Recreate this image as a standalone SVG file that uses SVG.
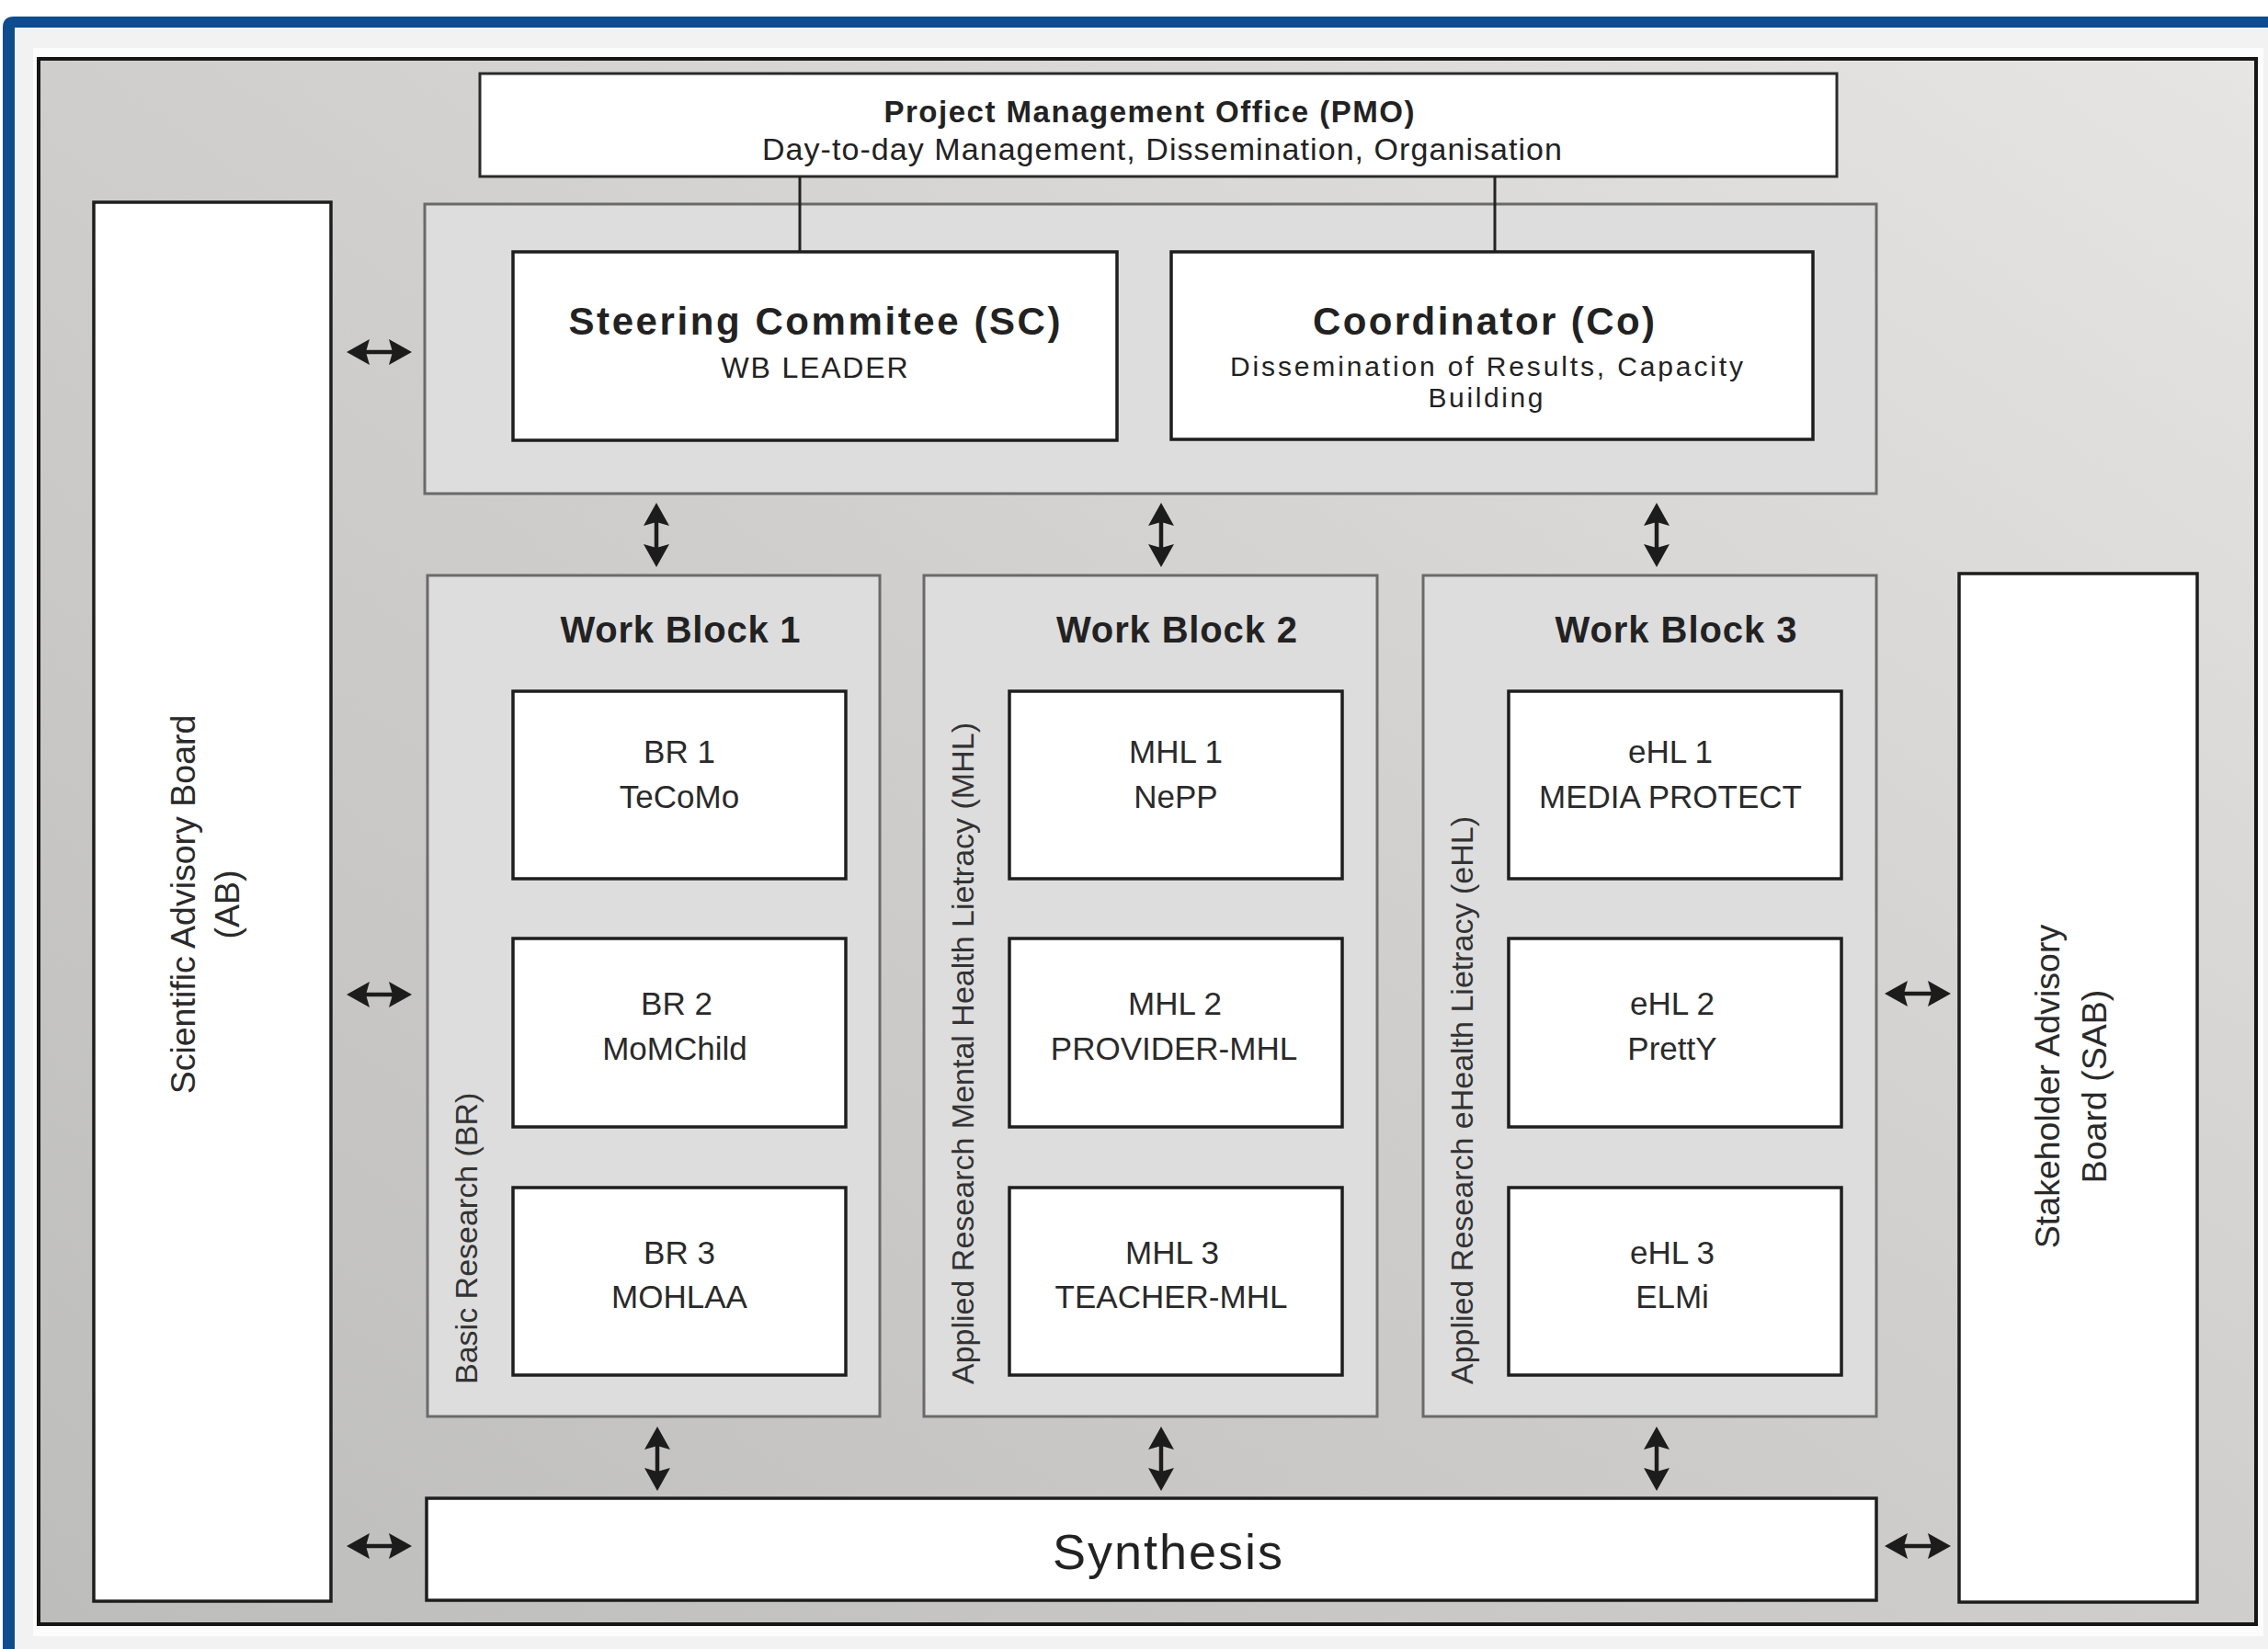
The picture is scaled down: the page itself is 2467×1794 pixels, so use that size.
<svg xmlns="http://www.w3.org/2000/svg" width="2467" height="1794" viewBox="0 0 2467 1794">
<defs>
<linearGradient id="bg" x1="0" y1="1" x2="1" y2="0">
<stop offset="0" stop-color="#bdbdbb"/>
<stop offset="0.5" stop-color="#cfcecc"/>
<stop offset="1" stop-color="#e6e5e3"/>
</linearGradient>
<marker id="ah" viewBox="0 0 25 30" refX="11" refY="15" markerWidth="25" markerHeight="30" orient="auto-start-reverse" markerUnits="userSpaceOnUse">
<path d="M0,1 L25,15 L0,29 L4,15 Z" fill="#1c1c1c"/>
</marker>
</defs>
<style>
text{font-family:"Liberation Sans",Arial,sans-serif;fill:#222}
.b{font-weight:bold}
.box{fill:#fff;stroke:#1e1e1e;stroke-width:3.5}
.cont{fill:#dddddd;stroke:#6a6a6a;stroke-width:3}
.t35{font-size:35px;text-anchor:middle;fill:#2a2a2a}
.wb{font-size:40px;font-weight:bold;text-anchor:middle}
.vt{font-size:34px;fill:#333}
.bd{font-size:37.5px;text-anchor:middle;fill:#2a2a2a}
.arr{stroke:#1c1c1c;stroke-width:4.5;fill:none;marker-start:url(#ah);marker-end:url(#ah)}
.ln{stroke:#222;stroke-width:3}
</style>
<rect x="0" y="0" width="2467" height="1794" fill="#ffffff"/>
<path d="M3,1794 V30 Q3,18 15,18 H2467 V1794 Z" fill="#0d4c8f"/>
<rect x="16" y="30" width="2451" height="1764" fill="#f2f2f2"/>
<rect x="36" y="52" width="2426" height="1728" fill="#fcfcfc"/>
<rect x="42" y="64" width="2412" height="1703" fill="url(#bg)" stroke="#161616" stroke-width="4"/>

<g id="pmo">
<rect x="522" y="80" width="1476" height="112" fill="#fff" stroke="#2a2a2a" stroke-width="3"/>
<text class="b" x="1250" y="133" font-size="33" text-anchor="middle" textLength="577" lengthAdjust="spacing">Project Management Office (PMO)</text>
<text x="1264" y="174" font-size="34" text-anchor="middle" fill="#333" textLength="870" lengthAdjust="spacing">Day-to-day Management, Dissemination, Organisation</text>
</g>

<g id="management">
<rect class="cont" x="462" y="222" width="1579" height="315"/>
</g>

<g id="sc">
<rect class="box" x="558" y="274" width="657" height="205"/>
<text class="b" x="886" y="364" font-size="42" text-anchor="middle" textLength="535" lengthAdjust="spacing">Steering Commitee (SC)</text>
<text x="886" y="411" font-size="32" text-anchor="middle" fill="#333" textLength="203" lengthAdjust="spacing">WB LEADER</text>
</g>

<g id="co">
<rect class="box" x="1274" y="274" width="698" height="204"/>
<text class="b" x="1614" y="364" font-size="42" text-anchor="middle" textLength="372" lengthAdjust="spacing">Coordinator (Co)</text>
<text x="1617" y="409" font-size="30" text-anchor="middle" fill="#333" textLength="558" lengthAdjust="spacing">Dissemination of Results, Capacity</text>
<text x="1616" y="443" font-size="30" text-anchor="middle" fill="#333" textLength="125" lengthAdjust="spacing">Building</text>
</g>

<g id="ab">
<rect class="box" x="102" y="220" width="258" height="1522"/>
<text class="bd" transform="translate(212,984) rotate(-90)">Scientific Advisory Board</text>
<text class="bd" transform="translate(260,984) rotate(-90)">(AB)</text>
</g>

<g id="sab">
<rect class="box" x="2131" y="624" width="259" height="1119"/>
<text class="bd" transform="translate(2240,1182) rotate(-90)">Stakeholder Advisory</text>
<text class="bd" transform="translate(2291,1182) rotate(-90)">Board (SAB)</text>
</g>

<g id="wb1">
<rect class="cont" x="465" y="626" width="492" height="915"/>
<text class="wb" x="740" y="699" textLength="261" lengthAdjust="spacing">Work Block 1</text>
<text class="vt" transform="translate(519,1506) rotate(-90)">Basic Research (BR)</text>
</g>
<g id="br1">
<rect class="box" x="558" y="752" width="362" height="204"/>
<text class="t35" x="739" y="830">BR 1</text>
<text class="t35" x="739" y="879">TeCoMo</text>
</g>
<g id="br2">
<rect class="box" x="558" y="1021" width="362" height="205"/>
<text class="t35" x="736" y="1104">BR 2</text>
<text class="t35" x="734" y="1153">MoMChild</text>
</g>
<g id="br3">
<rect class="box" x="558" y="1292" width="362" height="204"/>
<text class="t35" x="739" y="1375">BR 3</text>
<text class="t35" x="739" y="1423">MOHLAA</text>
</g>

<g id="wb2">
<rect class="cont" x="1005" y="626" width="493" height="915"/>
<text class="wb" x="1280" y="699" textLength="262" lengthAdjust="spacing">Work Block 2</text>
<text class="vt" transform="translate(1059,1506) rotate(-90)">Applied Research Mental Health Lietracy (MHL)</text>
</g>
<g id="mhl1">
<rect class="box" x="1098" y="752" width="362" height="204"/>
<text class="t35" x="1279" y="830">MHL 1</text>
<text class="t35" x="1279" y="879">NePP</text>
</g>
<g id="mhl2">
<rect class="box" x="1098" y="1021" width="362" height="205"/>
<text class="t35" x="1278" y="1104">MHL 2</text>
<text class="t35" x="1277" y="1153">PROVIDER-MHL</text>
</g>
<g id="mhl3">
<rect class="box" x="1098" y="1292" width="362" height="204"/>
<text class="t35" x="1275" y="1375">MHL 3</text>
<text class="t35" x="1274" y="1423">TEACHER-MHL</text>
</g>

<g id="wb3">
<rect class="cont" x="1548" y="626" width="493" height="915"/>
<text class="wb" x="1823" y="699" textLength="263" lengthAdjust="spacing">Work Block 3</text>
<text class="vt" transform="translate(1602,1506) rotate(-90)">Applied Research eHealth Lietracy (eHL)</text>
</g>
<g id="ehl1">
<rect class="box" x="1641" y="752" width="362" height="204"/>
<text class="t35" x="1817" y="830">eHL 1</text>
<text class="t35" x="1817" y="879">MEDIA PROTECT</text>
</g>
<g id="ehl2">
<rect class="box" x="1641" y="1021" width="362" height="205"/>
<text class="t35" x="1819" y="1104">eHL 2</text>
<text class="t35" x="1819" y="1153">PrettY</text>
</g>
<g id="ehl3">
<rect class="box" x="1641" y="1292" width="362" height="204"/>
<text class="t35" x="1819" y="1375">eHL 3</text>
<text class="t35" x="1819" y="1423">ELMi</text>
</g>

<g id="synthesis">
<rect class="box" x="464" y="1630" width="1577" height="111"/>
<text x="1270" y="1707" font-size="54" text-anchor="middle" textLength="250" lengthAdjust="spacing">Synthesis</text>
</g>

<g id="connectors">
<line class="ln" x1="870" y1="192" x2="870" y2="273"/>
<line class="ln" x1="1626" y1="192" x2="1626" y2="273"/>
<line class="arr" x1="391" y1="383" x2="434" y2="383"/>
<line class="arr" x1="391" y1="1082" x2="434" y2="1082"/>
<line class="arr" x1="391" y1="1682" x2="434" y2="1682"/>
<line class="arr" x1="2064" y1="1081" x2="2108" y2="1081"/>
<line class="arr" x1="2064" y1="1682" x2="2108" y2="1682"/>
<line class="arr" x1="714" y1="561" x2="714" y2="603"/>
<line class="arr" x1="1263" y1="561" x2="1263" y2="603"/>
<line class="arr" x1="1802" y1="561" x2="1802" y2="603"/>
<line class="arr" x1="715" y1="1566" x2="715" y2="1608"/>
<line class="arr" x1="1263" y1="1566" x2="1263" y2="1608"/>
<line class="arr" x1="1802" y1="1566" x2="1802" y2="1608"/>
</g>
</svg>
